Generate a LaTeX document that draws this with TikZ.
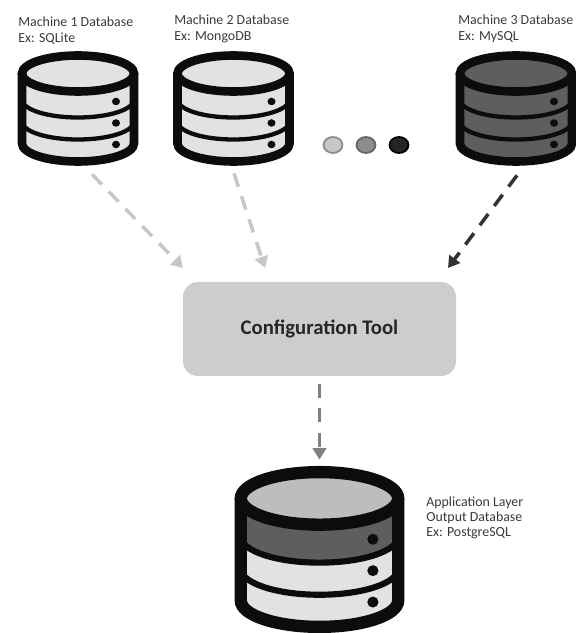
\documentclass[tikz,border=0pt]{standalone}
\usepackage{fontspec}
\setmainfont{Carlito}
\usepackage{tikz}
\usetikzlibrary{shapes.geometric,arrows.meta}
\definecolor{dblight}{HTML}{E2E2E2}
\definecolor{dbdark}{HTML}{5E5E5E}
\definecolor{dbmid}{HTML}{BDBDBD}
\definecolor{dbink}{HTML}{0C0C0C}
\definecolor{labelink}{HTML}{3A3A3A}
\tikzset{dbbox/.style={minimum width=2.38cm,minimum height=2.26cm,inner sep=0pt},
  dblabel/.style={align=left,anchor=north west,inner sep=0pt,font=\fontsize{7.9pt}{9pt}\selectfont,text=labelink},
  flow/.style={line width=2pt,dash pattern=on 8pt off 5.7pt,-{Triangle[length=6.5pt,width=7.5pt]}},
  dotn/.style={ellipse,line width=1pt,minimum width=.38cm,minimum height=.32cm,inner sep=0pt}}
% icon: centre, xscale, yscale, rim, top, band 1, band 2, band 3
\newcommand{\dbicon}[8]{
  \begin{scope}[shift={(#1)},xscale=#2,yscale=#3,line width=#4]
    \fill[#8] (-1.12,.7) -- (-1.12,-.7) arc[start angle=180,end angle=360,x radius=1.12,y radius=.36] -- (1.12,.7) -- cycle;
    \fill[#7] (-1.12,.7) -- (-1.12,-.26) arc[start angle=180,end angle=360,x radius=1.12,y radius=.36] -- (1.12,.7) -- cycle;
    \fill[#6] (-1.12,.7) -- (-1.12,.18) arc[start angle=180,end angle=360,x radius=1.12,y radius=.36] -- (1.12,.7) -- cycle;
    \fill[#5] (0,.7) ellipse [x radius=1.12,y radius=.36];
    \draw[dbink,line width=.5*#4] (-1.12,.18) arc[start angle=180,end angle=360,x radius=1.12,y radius=.36];
    \draw[dbink,line width=.5*#4] (-1.12,-.26) arc[start angle=180,end angle=360,x radius=1.12,y radius=.36];
    \draw[dbink] (0,.7) ellipse [x radius=1.12,y radius=.36];
    \draw[dbink] (-1.12,.7) -- (-1.12,-.7) arc[start angle=180,end angle=360,x radius=1.12,y radius=.36] -- (1.12,.7);
    \fill[dbink] (.76,.14) ellipse [x radius=.08,y radius=.075];
    \fill[dbink] (.76,-.29) ellipse [x radius=.08,y radius=.075];
    \fill[dbink] (.76,-.72) ellipse [x radius=.08,y radius=.075];
  \end{scope}
}
\begin{document}
\begin{tikzpicture}
    \useasboundingbox (0,0) rectangle (11.52,12.66);

    \node[dbbox] (db1) at (1.56,10.49) {};
    \node[dbbox] (db2) at (4.67,10.49) {};
    \node[dbbox] (db3) at (10.32,10.49) {};
    \node[dbbox,minimum width=3.38cm,minimum height=3.3cm] (db4) at (6.39,1.67) {};
    \dbicon{1.56,10.49}{1}{1}{4.9pt}{dblight}{dblight}{dblight}{dblight}
    \dbicon{4.67,10.49}{1}{1}{4.9pt}{dblight}{dblight}{dblight}{dblight}
    \dbicon{10.32,10.49}{1}{1}{4.9pt}{dbdark}{dbdark}{dbdark}{dbdark}
    \dbicon{6.39,1.67}{1.405}{1.46}{7pt}{dbmid}{dbdark}{dblight}{dblight}

    \node[dblabel] (l1) at (.36,12.32) {Machine 1 Database\\Ex: SQLite};
    \node[dblabel] (l2) at (3.48,12.36) {Machine 2 Database\\Ex: MongoDB};
    \node[dblabel] (l3) at (9.16,12.36) {Machine 3 Database\\Ex: MySQL};
    \node[dblabel,font=\fontsize{7.9pt}{8.5pt}\selectfont] (l4) at (8.52,2.72) {Application Layer\\Output Database\\Ex: PostgreSQL};

    \node[fill=dbmid!75!white,rounded corners=.3cm,minimum width=5.46cm,minimum height=1.88cm,font=\bfseries\fontsize{11.8pt}{14pt}\selectfont,text=black!85] (tool) at (6.39,6.08) {Configuration Tool};

    \node[dotn,draw=black!45,fill=black!22] (dot1) at (6.66,9.76) {};
    \node[dotn,draw=black!60,fill=black!45] (dot2) at (7.32,9.76) {};
    \node[dotn,draw=black,fill=black!85] (dot3) at (7.98,9.76) {};

    \coordinate (in1) at (3.66,7.3);
    \coordinate (in2) at (5.3,7.3);
    \coordinate (in3) at (8.96,7.3);
    \draw[flow,black!22] ([xshift=.28cm,yshift=-.18cm]db1.south) -- (in1);
    \draw[flow,black!22] ([xshift=.01cm,yshift=-.16cm]db2.south) -- (in2);
    \draw[flow,black!80] ([xshift=.02cm,yshift=-.2cm]db3.south) -- (in3);
    \draw[flow,black!50,shorten >=.14cm] ([yshift=-.16cm]tool.south) -- (db4.north);
\end{tikzpicture}
\end{document}
